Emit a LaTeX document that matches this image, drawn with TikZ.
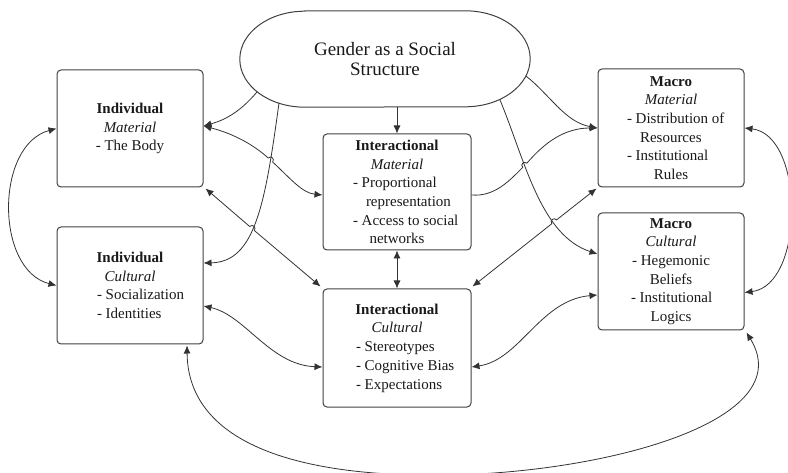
\documentclass[tikz,border=0pt]{standalone}
\usepackage{fontspec}
\setmainfont{Liberation Serif}
\usetikzlibrary{arrows.meta,calc}
\begin{document}
\begin{tikzpicture}[x=1pt,y=-1pt,
  >={Latex[length=8pt,width=7pt]},
  box/.style={draw=black!75, line width=1pt, rounded corners=4pt, minimum width=146pt, minimum height=117pt, align=center, inner sep=0pt, text=black!90, font=\fontsize{15}{18.7}\selectfont},
  conn/.style={color=black!80, line width=0.8pt},
  ovalline/.style={draw=black!75, line width=1pt},
]
\useasboundingbox (0,0) rectangle (788,473);

% nodes
\node[minimum width=290pt, minimum height=96pt, inner sep=0pt, align=center, text=black!90, font=\fontsize{19}{19.5}\selectfont] (gs) at (385,59) {Gender as a Social\\Structure};
\draw[ovalline] ([xshift=65pt]gs.north west) -- ([xshift=-65pt]gs.north east)
  arc[start angle=90, end angle=-90, x radius=65pt, y radius=48pt]
  -- ([xshift=65pt]gs.south west)
  arc[start angle=270, end angle=90, x radius=65pt, y radius=48pt] -- cycle;

\node[box] (im) at (130,128.5) {\textbf{Individual}\\\textit{Material}\\- The Body};
\node[box] (ic) at (130,285.5) {\textbf{Individual}\\\textit{Cultural}\\\makebox[66pt][l]{- Socialization}\\\makebox[66pt][l]{- Identities}};
\node[box, minimum width=148pt, minimum height=116pt] (xm) at (397,192) {\textbf{Interactional}\\\textit{Material}\\\makebox[88pt][l]{- Proportional}\\\makebox[62pt][l]{representation}\\\makebox[88pt][l]{- Access to social}\\networks};
\node[box, minimum width=148pt, minimum height=118pt] (xc) at (397,348) {\textbf{Interactional}\\\textit{Cultural}\\\makebox[82pt][l]{- Stereotypes}\\\makebox[82pt][l]{- Cognitive Bias}\\\makebox[82pt][l]{- Expectations}};
\node[box, minimum height=118pt] (mm) at (671,128) {\textbf{Macro}\\\textit{Material}\\\makebox[88pt][l]{- Distribution of}\\\makebox[62pt][l]{Resources}\\\makebox[88pt][l]{- Institutional}\\Rules};
\node[box] (mc) at (671,271.5) {\textbf{Macro}\\\textit{Cultural}\\- Hegemonic\\Beliefs\\\makebox[80pt][l]{- Institutional}\\Logics};

% connectors
\draw[conn,->] ($(gs.center)+(-128,33)$) .. controls (240,112) and (225,120) .. ($(im.east)+(0,-2.5)$);
\draw[conn,->] ($(gs.center)+(-106,44)$) .. controls (265,205) and (255,262) .. ($(ic.east)+(0,-22.5)$);
\draw[conn,<->] ($(im.east)+(0,-2.5)$) .. controls (235,134) and (255,146) .. (268.2,158)
  .. controls (270.8,155) and (275.2,159) .. (272.6,162)
  .. controls (290,178) and (302,193) .. ($(xm.west)+(0,3)$);
\draw[conn,<->] ($(im.south east)+(2,1)$) -- (249.7,226.5)
  .. controls (252.3,223.5) and (256.9,227.5) .. (254.3,230.5)
  -- ($(xc.north west)+(-2,-2)$);
\draw[conn,<->] ($(ic.east)+(0,20.5)$) .. controls (245,315) and (270,365) .. ($(xc.west)+(0,19)$);
\draw[conn,<->] (xm.south) -- (xc.north);
\draw[conn,->] (xm.north |- gs.south) -- (xm.north);
\draw[conn,->] ($(gs.center)+(141,17)$) .. controls (550,95) and (565,122) .. (mm.west);
\draw[conn,->] ($(xm.east)+(0,3)$) .. controls (495,197) and (510,180) .. (522.7,167.4)
  .. controls (519.9,164.6) and (524.1,160.4) .. (526.9,163.2)
  .. controls (545,142) and (565,128) .. (mm.west);
\draw[conn,->] ($(gs.center)+(115,41)$) .. controls (525,160) and (540,235) .. ($(mc.west)+(0,-17.5)$);
\draw[conn,<->] ($(mm.south west)+(-1,1)$) -- (556.55,219.9)
  .. controls (554.05,216.8) and (549.35,220.6) .. (551.85,223.7)
  -- ($(xc.north east)+(1,-2)$);
\draw[conn,<->] ($(xc.east)+(0,19)$) .. controls (520,360) and (540,300) .. ($(mc.west)+(0,23.5)$);
\draw[conn,<->] (im.west) .. controls (-5,145) and (-5,270) .. (ic.west);
\draw[conn,<->] (mm.east) .. controls (805,135) and (805,285) .. ($(mc.east)+(0,21)$);
\draw[conn,<->] ($(ic.south)+(57,1)$) .. controls (188,440) and (290,478) .. (450,475)
  .. controls (610,472) and (800,420) .. ($(mc.south east)+(2,2)$);
\end{tikzpicture}
\end{document}
